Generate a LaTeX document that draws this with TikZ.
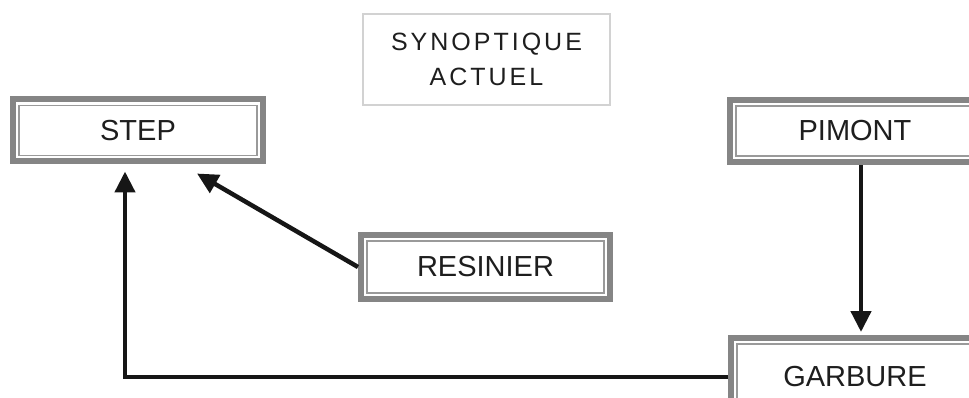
\documentclass[tikz,border=0pt]{standalone}
\usepackage{fontspec}
\setmainfont{Liberation Sans}
\usetikzlibrary{arrows.meta,calc}
\definecolor{framegray}{HTML}{858585}
\definecolor{innergray}{HTML}{9A9A9A}
\definecolor{inkblack}{HTML}{161616}
\definecolor{textblack}{HTML}{1E1E1E}
\tikzset{
  framebox/.style={
    draw=framegray, line width=6pt, fill=white,
    minimum width=250pt, minimum height=62pt, inner sep=0pt,
    text=textblack, font=\fontsize{29}{34}\selectfont,
    path picture={
      \draw[innergray, line width=1.8pt]
        ([shift={(6pt,-6pt)}]path picture bounding box.north west)
        rectangle
        ([shift={(-6pt,6pt)}]path picture bounding box.south east);
    }
  },
  titlebox/.style={
    draw=gray!35, line width=1.5pt, inner sep=0pt,
    minimum width=247pt, minimum height=91pt, align=center,
    text=textblack,
    font=\fontsize{25}{35}\selectfont\addfontfeatures{LetterSpace=12}
  },
  flow/.style={
    draw=inkblack, line width=4.5pt,
    -{Triangle[length=21pt,width=20pt]}, inkblack
  }
}
\begin{document}
\begin{tikzpicture}[x=1pt,y=-1pt]
  \useasboundingbox (0,0) rectangle (969,398);
  \clip (0,0) rectangle (969,398);
  \node[titlebox] (title) at (486.5,59.5) {SYNOPTIQUE\\ACTUEL};
  \node[framebox] (step) at (138,130.5) {STEP};
  \node[framebox, minimum width=249pt, minimum height=64pt] (res) at (485.5,267) {RESINIER};
  \node[framebox] (pim) at (855,131) {PIMONT};
  \node[framebox, minimum width=248pt, minimum height=78pt] (garb) at (855,377) {GARBURE};
  \draw[flow] (res.west) -- ([shift={(187,9)}]step.south west);
  \draw[flow] (garb.west) -| ([shift={(115,7)}]step.south west);
  \draw[flow] ([xshift=6pt]pim.south) -- ([shift={(6,-3)}]garb.north);
\end{tikzpicture}
\end{document}
